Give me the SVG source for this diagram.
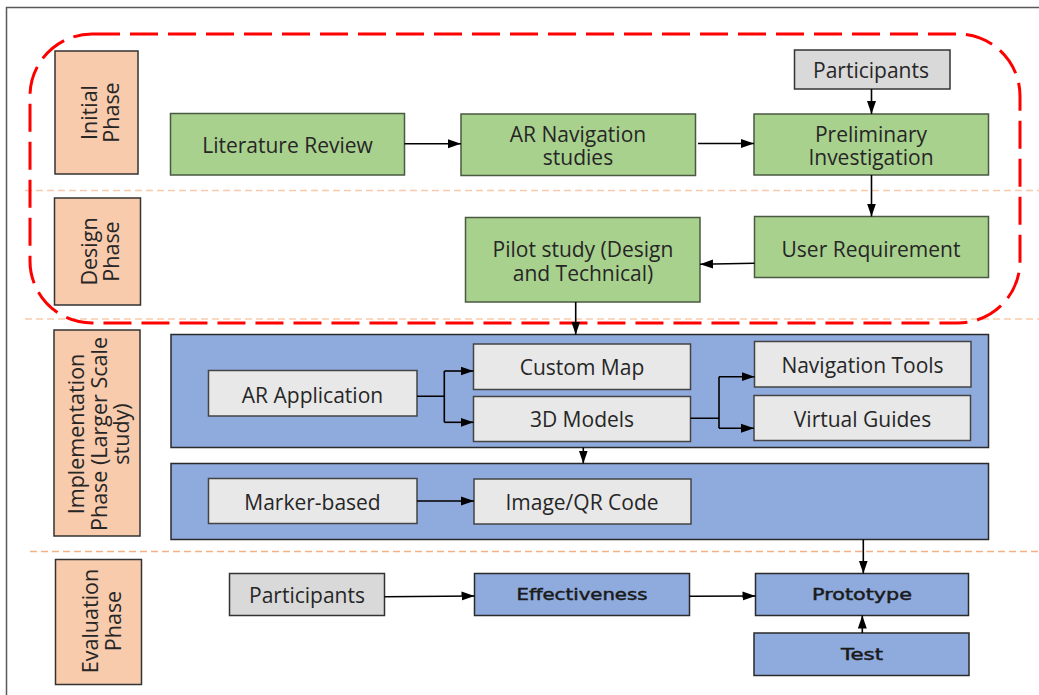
<svg xmlns="http://www.w3.org/2000/svg" width="1039" height="695" viewBox="0 0 1039 695">
<style>
text{font-family:"Open Sans","Noto Sans",sans-serif;fill:#262626;text-anchor:middle}
.t{font-size:21px}
.ph{font-size:21.5px}
.b{font-family:"DejaVu Sans",Verdana,sans-serif;font-size:15.5px;fill:#1a1a1a;stroke:#1a1a1a;stroke-width:0.45}
.g{fill:#a9d18e;stroke:#4a5a40;stroke-width:1.5}
.gr{fill:#d9d9d9;stroke:#333;stroke-width:1.5}
.lg{fill:#e8e8e8;stroke:#444;stroke-width:1.5}
.bl{fill:#8faadc;stroke:#2a2a2a;stroke-width:1.5}
.pe{fill:#f8cbad;stroke:#333;stroke-width:1.5}
.c{fill:none;stroke:#000;stroke-width:1.6}
.ca{fill:none;stroke:#000;stroke-width:1.6;marker-end:url(#ah)}
.sep{stroke:#f8cbad;stroke-width:1.5;stroke-dasharray:7 4}
</style>
<defs>
<marker id="ah" markerUnits="userSpaceOnUse" markerWidth="14" markerHeight="12" refX="13" refY="6" orient="auto">
<path d="M0,1.5 L13,6 L0,10.5 Z" fill="#000"/>
</marker>
</defs>
<path d="M6.5,695 V7.5 H1039" fill="none" stroke="#595959" stroke-width="1.5"/>
<g id="separators">
<line class="sep" x1="25" y1="190.5" x2="1039" y2="190.5"/>
<line class="sep" x1="25" y1="319" x2="1039" y2="319"/>
<line class="sep" x1="30" y1="551.5" x2="1039" y2="551.5" style="stroke:#f4b183"/>
</g>
<rect id="initial-design-highlight" x="30" y="34" width="990" height="289" rx="62" ry="62" fill="none" stroke="#ff0000" stroke-width="3" stroke-dasharray="28 10"/>

<g id="phase-initial"><rect class="pe" x="55" y="51" width="83" height="123"/>
<text class="ph" transform="translate(96.5,112.5) rotate(-90)">Initial</text>
<text class="ph" transform="translate(119,112.5) rotate(-90)">Phase</text></g>
<g id="phase-design"><rect class="pe" x="54.5" y="198" width="86" height="107"/>
<text class="ph" transform="translate(96.5,251.5) rotate(-90)">Design</text>
<text class="ph" transform="translate(119,251.5) rotate(-90)">Phase</text></g>
<g id="phase-implementation"><rect class="pe" x="54" y="330" width="86" height="206"/>
<text class="ph" transform="translate(84,434) rotate(-90)">Implementation</text>
<text class="ph" transform="translate(106.5,434) rotate(-90)">Phase (Larger Scale</text>
<text class="ph" transform="translate(129,434) rotate(-90)">study)</text></g>
<g id="phase-evaluation"><rect class="pe" x="55.5" y="559.5" width="86" height="125"/>
<text class="ph" transform="translate(98,621) rotate(-90)">Evaluation</text>
<text class="ph" transform="translate(120.5,621) rotate(-90)">Phase</text></g>

<g id="literature-review"><rect class="g" x="170.5" y="113.5" width="234" height="61.5"/><text class="t" x="287.5" y="152.5">Literature Review</text></g>
<g id="ar-navigation-studies"><rect class="g" x="461" y="114" width="234.5" height="61.5"/><text class="t" x="578" y="141.5">AR Navigation</text><text class="t" x="578" y="165">studies</text></g>
<g id="preliminary-investigation"><rect class="g" x="754" y="114" width="234.5" height="61"/><text class="t" x="871" y="141.5">Preliminary</text><text class="t" x="871" y="165">Investigation</text></g>
<g id="participants-top"><rect class="gr" x="794.5" y="50" width="155.5" height="39"/><text class="t" x="871" y="78">Participants</text></g>
<g id="user-requirement"><rect class="g" x="754.5" y="216.5" width="234" height="61"/><text class="t" x="871" y="257">User Requirement</text></g>
<g id="pilot-study"><rect class="g" x="465.5" y="217.5" width="234.5" height="84.5"/><text class="t" x="583" y="257">Pilot study (Design</text><text class="t" x="583" y="280.5">and Technical)</text></g>

<g id="implementation-box-1"><rect class="bl" x="171" y="334.5" width="817.5" height="113"/></g>
<g id="implementation-box-2"><rect class="bl" x="171" y="463.5" width="817.5" height="76"/></g>
<g id="ar-application"><rect class="lg" x="208.5" y="370.5" width="208.5" height="45.5"/><text class="t" x="312.5" y="403">AR Application</text></g>
<g id="custom-map"><rect class="lg" x="473.5" y="344" width="217" height="45.5"/><text class="t" x="582" y="375">Custom Map</text></g>
<g id="3d-models"><rect class="lg" x="473.5" y="396.5" width="217" height="45"/><text class="t" x="582" y="427">3D Models</text></g>
<g id="navigation-tools"><rect class="lg" x="754.5" y="341.5" width="216.5" height="45.5"/><text class="t" x="862.5" y="373">Navigation Tools</text></g>
<g id="virtual-guides"><rect class="lg" x="754" y="395.5" width="216.5" height="45"/><text class="t" x="862.5" y="427">Virtual Guides</text></g>
<g id="marker-based"><rect class="lg" x="208.5" y="478.5" width="208.5" height="45"/><text class="t" x="312.5" y="510">Marker-based</text></g>
<g id="image-qr-code"><rect class="lg" x="474" y="479" width="217" height="45"/><text class="t" x="582" y="510">Image/QR Code</text></g>

<g id="participants-eval"><rect class="gr" x="229.5" y="573.5" width="155" height="42"/><text class="t" x="307" y="603">Participants</text></g>
<g id="effectiveness"><rect class="bl" x="474.5" y="573.5" width="215" height="42"/><text class="b" x="582" y="600" textLength="131" lengthAdjust="spacingAndGlyphs">Effectiveness</text></g>
<g id="prototype"><rect class="bl" x="755.5" y="573.5" width="213" height="42"/><text class="b" x="862" y="600" textLength="100" lengthAdjust="spacingAndGlyphs">Prototype</text></g>
<g id="test"><rect class="bl" x="754" y="633" width="215" height="42.5"/><text class="b" x="862" y="660" textLength="42" lengthAdjust="spacingAndGlyphs">Test</text></g>

<g id="connectors">
<line class="ca" x1="404.5" y1="143.7" x2="461" y2="143.7"/>
<line class="ca" x1="698" y1="143.5" x2="754" y2="143.5"/>
<line class="ca" x1="871.5" y1="89" x2="871.5" y2="114"/>
<line class="ca" x1="871.5" y1="175" x2="871.5" y2="216.5"/>
<line class="ca" x1="754.5" y1="263.3" x2="700" y2="264.3"/>
<line class="ca" x1="575.7" y1="302" x2="575.7" y2="334.5"/>
<path class="c" d="M417,396.3 H444.3 M444.3,371 V422.3"/>
<line class="ca" x1="444.3" y1="371" x2="473.5" y2="371"/>
<line class="ca" x1="444.3" y1="422.3" x2="473.5" y2="422.3"/>
<path class="c" d="M690.5,418.3 H719 M719,376.7 V428.3"/>
<line class="ca" x1="719" y1="376.7" x2="754.5" y2="376.7"/>
<line class="ca" x1="719" y1="428.3" x2="754" y2="428.3"/>
<line class="ca" x1="583.3" y1="447.5" x2="583.3" y2="463.5"/>
<line class="ca" x1="417" y1="501" x2="474" y2="501"/>
<line class="ca" x1="863.3" y1="539.5" x2="863.3" y2="573.5"/>
<line class="ca" x1="384.5" y1="596.7" x2="474.5" y2="596"/>
<line class="ca" x1="689.5" y1="596.3" x2="755.5" y2="596"/>
<line class="ca" x1="862.3" y1="633" x2="862.3" y2="615.5"/>
</g>
</svg>
